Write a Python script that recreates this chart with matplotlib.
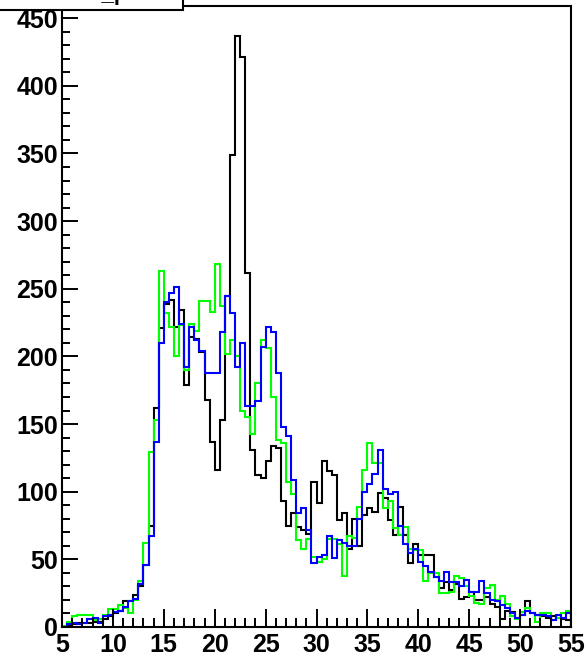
import numpy as np
import matplotlib
matplotlib.use("Agg")
import matplotlib.pyplot as plt
from matplotlib.ticker import MultipleLocator
from matplotlib.patches import Rectangle

# 100 bins of width 0.5 between 5 and 55
edges = np.linspace(5, 55, 101)

black = [0, 1, 2, 3, 3, 3, 4, 4, 6, 8,
         10, 12, 19, 19, 24, 30, 46, 75, 162, 221,
         239, 242, 222, 234, 179, 214, 213, 203, 168, 137,
         116, 153, 245, 349, 437, 421, 262, 131, 112, 110,
         123, 134, 132, 93, 75, 84, 74, 72, 69, 107,
         92, 123, 115, 112, 79, 84, 58, 80, 60, 83,
         88, 85, 99, 95, 79, 68, 89, 68, 47, 61,
         53, 53, 53, 37, 29, 33, 27, 32, 21, 22,
         26, 20, 20, 22, 17, 15, 6, 12, 11, 7,
         9, 19, 10, 9, 8, 7, 8, 7, 6, 5]

green = [1, 4, 8, 9, 9, 9, 5, 6, 9, 13,
         13, 16, 14, 10, 20, 34, 62, 129, 153, 263,
         232, 222, 200, 223, 190, 224, 219, 241, 241, 233,
         268, 237, 202, 212, 200, 160, 155, 143, 180, 212,
         206, 170, 138, 136, 107, 98, 64, 58, 65, 52,
         48, 50, 65, 65, 61, 38, 67, 66, 89, 116,
         136, 121, 121, 88, 93, 73, 68, 74, 58, 57,
         57, 34, 40, 40, 25, 25, 26, 38, 36, 30,
         23, 18, 17, 29, 31, 20, 23, 17, 8, 6,
         11, 14, 10, 4, 10, 10, 5, 7, 10, 12]

blue = [0, 2, 3, 2, 3, 6, 7, 3, 8, 9,
        11, 12, 15, 19, 21, 32, 46, 67, 137, 210,
        240, 247, 251, 224, 192, 222, 212, 204, 188, 188,
        188, 218, 245, 232, 192, 210, 163, 163, 167, 207,
        222, 218, 188, 148, 141, 109, 84, 88, 72, 47,
        52, 53, 67, 51, 64, 62, 60, 60, 80, 100,
        106, 113, 131, 102, 98, 100, 75, 61, 55, 58,
        48, 45, 41, 37, 34, 41, 33, 33, 30, 35,
        26, 26, 34, 25, 20, 19, 16, 14, 10, 7,
        9, 12, 10, 9, 9, 8, 5, 9, 7, 10]

fig = plt.figure(figsize=(5.88, 6.56), dpi=100)
ax = fig.add_axes([62 / 588, 29 / 656, 509 / 588, 621 / 656])

ax.stairs(black, edges, color="black", lw=1.5)
ax.stairs(green, edges, color="#00ff00", lw=1.5)
ax.stairs(blue, edges, color="#0000ff", lw=1.5)

ax.set_xlim(5, 55)
ax.set_ylim(0, 459)
ax.xaxis.set_major_locator(MultipleLocator(5))
ax.xaxis.set_minor_locator(MultipleLocator(1))
ax.yaxis.set_major_locator(MultipleLocator(50))
ax.yaxis.set_minor_locator(MultipleLocator(10))

ax.tick_params(direction="in", which="both", top=False, right=False, width=1.4,
               labelsize=18)
ax.tick_params(axis="x", which="major", length=13, pad=4)
ax.tick_params(axis="x", which="minor", length=6.5)
ax.tick_params(axis="y", which="major", length=11.5, pad=3)
ax.tick_params(axis="y", which="minor", length=5.8)
for lab in ax.get_xticklabels() + ax.get_yticklabels():
    lab.set_fontfamily("Liberation Sans")
    lab.set_fontweight("bold")
for s in ax.spines.values():
    s.set_linewidth(1.5)

# title box, mostly cut off by the top of the canvas
fig.patches.append(Rectangle((-0.01, 646 / 656), 183 / 588 + 0.01, 0.05,
                             transform=fig.transFigure, facecolor="white",
                             edgecolor="black", lw=1.5, zorder=5))
fig.text(0.19, 1.0, "h_pt", ha="center", va="baseline", fontsize=16,
         fontweight="bold", family="Liberation Sans", zorder=6)

fig.savefig("out.png", dpi=100)
